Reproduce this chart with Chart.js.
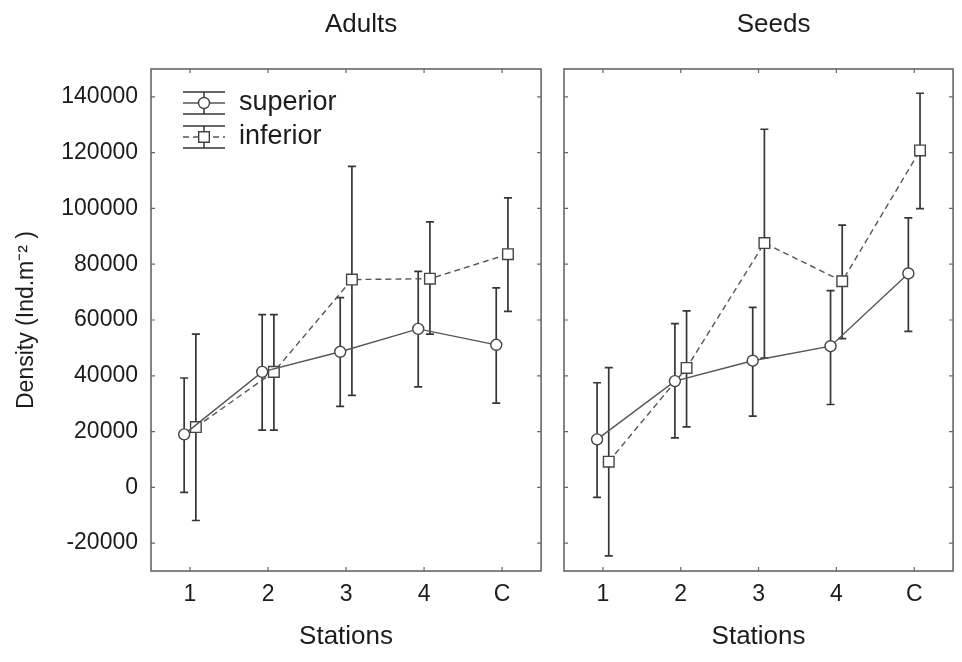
<!DOCTYPE html>
<html>
<head>
<meta charset="utf-8">
<script src="https://cdn.jsdelivr.net/npm/chart.js@4.4.0/dist/chart.umd.min.js"></script>
<style>
  html, body { margin: 0; padding: 0; background: #fff; }
  #wrap { position: relative; width: 962px; height: 662px; }
  #adultsBox { position: absolute; left: 0; top: 0; width: 550px; height: 662px; }
  #seedsBox { position: absolute; left: 550px; top: 0; width: 412px; height: 662px; }
</style>
</head>
<body>
<div id="wrap">
  <div id="adultsBox"><canvas id="adultsChart"></canvas></div>
  <div id="seedsBox"><canvas id="seedsChart"></canvas></div>
</div>
<script>
const stations = ['1', '2', '3', '4', 'C'];
const yTicks = [-20000, 0, 20000, 40000, 60000, 80000, 100000, 120000, 140000];

// Adults
const adultsSuperior = [19000, 41400, 48600, 56800, 51100];
const adultsSuperiorLow = [-1800, 20500, 29000, 36000, 30200];
const adultsSuperiorHigh = [39200, 61900, 68000, 77400, 71500];
const adultsInferior = [21600, 41400, 74500, 74800, 83600];
const adultsInferiorLow = [-11900, 20500, 33000, 54900, 63100];
const adultsInferiorHigh = [54900, 61900, 115100, 95200, 103800];

// Seeds
const seedsSuperior = [17200, 38100, 45400, 50600, 76700];
const seedsSuperiorLow = [-3600, 17700, 25500, 29700, 55900];
const seedsSuperiorHigh = [37500, 58700, 64500, 70500, 96600];
const seedsInferior = [9200, 42800, 87600, 73900, 120800];
const seedsInferiorLow = [-24600, 21700, 46300, 53300, 99900];
const seedsInferiorHigh = [42900, 63300, 128400, 94000, 141300];

const FONT = '"Liberation Sans", Arial, sans-serif';
const TEXT = '#1c1c1c';
const LINE = '#555';
const BAR = '#363636';
const FRAME = '#666';
const shift = 0.075; // side-by-side offset of the two series at each station

function toPoints(values, dx) {
    return values.map((v, i) => ({ x: i + 1 + dx, y: v }));
}

function drawMarker(ctx, style, x, y, r) {
    ctx.beginPath();
    if (style === 'rect') {
        const s = r * Math.SQRT1_2;
        ctx.rect(x - s, y - s, 2 * s, 2 * s);
    } else {
        ctx.arc(x, y, r, 0, Math.PI * 2);
    }
    ctx.fillStyle = '#fff';
    ctx.fill();
    ctx.lineWidth = 1.4;
    ctx.strokeStyle = '#444';
    ctx.stroke();
}

const errorBars = {
    id: 'errorBars',
    beforeDatasetsDraw(chart) {
        const ctx = chart.ctx;
        const xs = chart.scales.x, ys = chart.scales.y;
        ctx.save();
        ctx.strokeStyle = BAR;
        ctx.lineWidth = 1.7;
        chart.data.datasets.forEach(ds => {
            ds.data.forEach((p, i) => {
                const x = xs.getPixelForValue(p.x);
                const y1 = ys.getPixelForValue(ds.low[i]);
                const y2 = ys.getPixelForValue(ds.high[i]);
                ctx.beginPath();
                ctx.moveTo(x, y1); ctx.lineTo(x, y2);
                ctx.moveTo(x - 4, y1); ctx.lineTo(x + 4, y1);
                ctx.moveTo(x - 4, y2); ctx.lineTo(x + 4, y2);
                ctx.stroke();
            });
        });
        ctx.restore();
    }
};

const frame = {
    id: 'frame',
    afterDraw(chart, args, opts) {
        const ctx = chart.ctx;
        const a = chart.chartArea;
        const xs = chart.scales.x, ys = chart.scales.y;
        ctx.save();
        ctx.strokeStyle = FRAME;
        ctx.lineWidth = 1.6;
        ctx.strokeRect(a.left, a.top, a.right - a.left, a.bottom - a.top);
        ctx.lineWidth = 1.2;
        ctx.beginPath();
        xs.ticks.forEach(t => {
            const x = xs.getPixelForValue(t.value);
            ctx.moveTo(x, a.bottom); ctx.lineTo(x, a.bottom - 4);
            ctx.moveTo(x, a.top); ctx.lineTo(x, a.top + 4);
        });
        ys.ticks.forEach(t => {
            const y = ys.getPixelForValue(t.value);
            ctx.moveTo(a.left, y); ctx.lineTo(a.left + 4, y);
            ctx.moveTo(a.right, y); ctx.lineTo(a.right - 4, y);
        });
        ctx.stroke();

        // panel title
        ctx.fillStyle = TEXT;
        ctx.font = '26px ' + FONT;
        ctx.textAlign = 'center';
        ctx.textBaseline = 'middle';
        ctx.fillText(opts.text, (a.left + a.right) / 2 + 15, 25);

        if (opts.legend) {
            const lx = a.left + 32, w = 42;
            chart.data.datasets.forEach((ds, k) => {
                const cy = a.top + 34 + k * 34;
                ctx.strokeStyle = BAR;
                ctx.lineWidth = 1.5;
                ctx.setLineDash([]);
                ctx.beginPath();
                ctx.moveTo(lx, cy - 11); ctx.lineTo(lx + w, cy - 11);
                ctx.moveTo(lx, cy + 11); ctx.lineTo(lx + w, cy + 11);
                ctx.moveTo(lx + w / 2, cy - 11); ctx.lineTo(lx + w / 2, cy + 11);
                ctx.stroke();
                ctx.strokeStyle = LINE;
                ctx.lineWidth = 1.3;
                ctx.setLineDash(ds.borderDash || []);
                ctx.beginPath();
                ctx.moveTo(lx, cy); ctx.lineTo(lx + w, cy);
                ctx.stroke();
                ctx.setLineDash([]);
                drawMarker(ctx, ds.pointStyle, lx + w / 2, cy, ds.pointRadius);
                ctx.fillStyle = TEXT;
                ctx.font = '27px ' + FONT;
                ctx.textAlign = 'left';
                ctx.fillText(ds.label, lx + w + 14, cy);
            });
        }
        ctx.restore();
    }
};

function makeChart(canvasId, title, sup, supLow, supHigh, inf, infLow, infHigh, isLeft) {
    const ctx = document.getElementById(canvasId).getContext('2d');
    return new Chart(ctx, {
        type: 'line',
        data: {
            datasets: [{
                label: 'superior',
                data: toPoints(sup, -shift),
                low: supLow,
                high: supHigh,
                borderColor: LINE,
                borderWidth: 1.4,
                pointStyle: 'circle',
                pointRadius: 5.5,
                pointBackgroundColor: '#fff',
                pointBorderColor: '#444',
                pointBorderWidth: 1.4
            }, {
                label: 'inferior',
                data: toPoints(inf, shift),
                low: infLow,
                high: infHigh,
                borderColor: LINE,
                borderWidth: 1.4,
                borderDash: [6, 4],
                pointStyle: 'rect',
                pointRadius: 7.5,
                pointBackgroundColor: '#fff',
                pointBorderColor: '#444',
                pointBorderWidth: 1.4
            }]
        },
        options: {
            responsive: true,
            maintainAspectRatio: false,
            animation: false,
            layout: { padding: { top: 69, right: isLeft ? 8 : 7, left: 0, bottom: 0 } },
            plugins: {
                legend: { display: false },
                tooltip: { enabled: false },
                frame: { text: title, legend: isLeft }
            },
            scales: {
                x: {
                    type: 'linear',
                    min: 0.5,
                    max: 5.5,
                    afterBuildTicks: s => { s.ticks = stations.map((_, i) => ({ value: i + 1 })); },
                    afterFit: s => { s.height = 91; },
                    grid: { display: false, drawTicks: false },
                    border: { display: false },
                    ticks: {
                        autoSkip: false,
                        maxRotation: 0,
                        padding: 10,
                        color: TEXT,
                        font: { family: FONT, size: 23 },
                        callback: (v, i) => stations[i]
                    },
                    title: {
                        display: true,
                        text: 'Stations',
                        color: TEXT,
                        font: { family: FONT, size: 26 },
                        padding: { top: 0, bottom: 10 }
                    }
                },
                y: {
                    min: -30000,
                    max: 150000,
                    afterBuildTicks: s => { s.ticks = yTicks.map(v => ({ value: v })); },
                    afterFit: s => { s.width = isLeft ? 151 : 14; },
                    grid: { display: false, drawTicks: false },
                    border: { display: false },
                    ticks: {
                        display: isLeft,
                        padding: 13,
                        color: TEXT,
                        font: { family: FONT, size: 23 },
                        callback: v => String(v)
                    },
                    title: {
                        display: isLeft,
                        text: 'Density (Ind.m\u207B\u00B2 )',
                        color: TEXT,
                        font: { family: FONT, size: 23 },
                        padding: { top: 13, bottom: 0 }
                    }
                }
            }
        },
        plugins: [errorBars, frame]
    });
}

document.addEventListener('DOMContentLoaded', function () {
    makeChart('adultsChart', 'Adults', adultsSuperior, adultsSuperiorLow, adultsSuperiorHigh,
        adultsInferior, adultsInferiorLow, adultsInferiorHigh, true);
    makeChart('seedsChart', 'Seeds', seedsSuperior, seedsSuperiorLow, seedsSuperiorHigh,
        seedsInferior, seedsInferiorLow, seedsInferiorHigh, false);
});
</script>
</body>
</html>
